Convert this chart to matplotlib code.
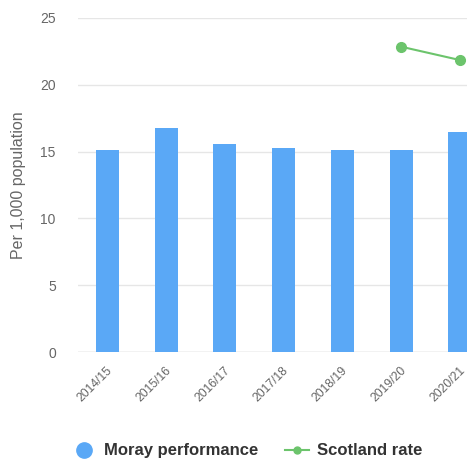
import matplotlib.pyplot as plt
import matplotlib.transforms as mtransforms
from matplotlib.lines import Line2D
import numpy as np

plt.rcParams['font.family'] = ['Liberation Sans', 'DejaVu Sans']

#### Data
years = ['2014/15', '2015/16', '2016/17', '2017/18', '2018/19', '2019/20', '2020/21']
moray = [15.1, 16.75, 15.6, 15.3, 15.15, 15.1, 16.45]
scotland_years = ['2019/20', '2020/21']
scotland = [22.85, 21.85]

bar_col = '#5aa8f6'
line_col = '#6cc46c'
txt_col = '#666666'

fig = plt.figure(figsize=(4.67, 4.61), dpi=100)
ax = fig.add_axes([0.167, 0.2364, 0.833, 0.7246])

x = np.arange(len(years))
ax.bar(x, moray, width=0.39, color=bar_col, zorder=2)
sx = [years.index(y) for y in scotland_years]
ax.plot(sx, scotland, color=line_col, lw=1.5, marker='o', ms=7, zorder=3)

ax.set_xlim(-0.5, 6.12)
ax.set_ylim(0, 25)
ax.set_yticks([0, 5, 10, 15, 20, 25])
ax.yaxis.grid(True, color='#e6e6e6', lw=1, zorder=0)
ax.axhline(0, color='#cccccc', lw=1, zorder=1)
for s in ax.spines.values():
    s.set_visible(False)
ax.tick_params(axis='y', length=0, pad=16, labelsize=10, labelcolor=txt_col)
ax.tick_params(axis='x', length=0, pad=9, labelsize=8.7, labelcolor=txt_col)
ax.set_xticks(x)
ax.set_xticklabels(years, rotation=45, ha='right', rotation_mode='anchor')
off = mtransforms.ScaledTranslation(-1 / 100, 0, fig.dpi_scale_trans)
for lab in ax.get_xticklabels():
    lab.set_transform(lab.get_transform() + off)

ax.set_ylabel('Per 1,000 population', color=txt_col, fontsize=11.5, labelpad=10)

handles = [
    Line2D([], [], color=bar_col, marker='o', ms=11, lw=0),
    Line2D([], [], color=line_col, marker='o', ms=5, lw=1.5),
]
fig.legend(handles, ['Moray performance', 'Scotland rate'], loc='center',
           bbox_to_anchor=(0.53, 0.022), ncol=2, frameon=False,
           prop={'weight': 'bold', 'size': 12}, labelcolor='#333333',
           handlelength=1.4, columnspacing=1.6, handletextpad=0.5)

fig.savefig('out.png', dpi=100)
